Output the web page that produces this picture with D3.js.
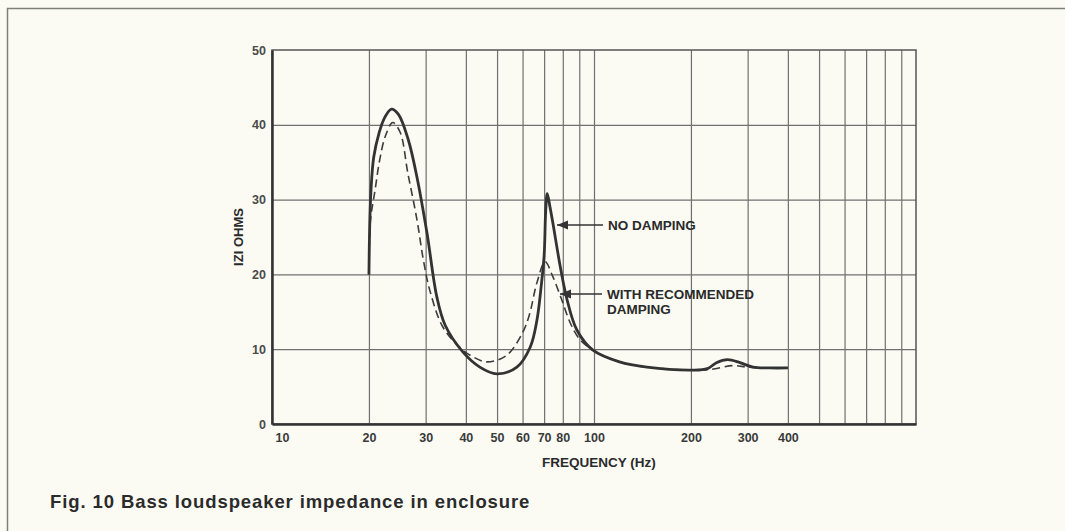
<!DOCTYPE html>
<html>
<head>
<meta charset="utf-8">
<script src="https://cdn.jsdelivr.net/npm/d3@7"></script>
<style>
  body { margin: 0; background: #fbfbf4; }
  svg { display: block; }
</style>
</head>
<body>
<div id="chart"></div>
<script>
// Bass loudspeaker impedance in enclosure - |Z| vs frequency

// Tick values
const freqLabels = [10, 20, 30, 40, 50, 60, 70, 80, 100, 200, 300, 400];
const freqGrid = [20, 30, 40, 50, 60, 70, 80, 90, 100, 200, 300, 400, 500, 600, 700, 800, 900];
const ohmTicks = [0, 10, 20, 30, 40, 50];

// No damping (solid): [Hz, ohms]
const noDamping = [
  [20, 20], [20.1, 26], [20.3, 31.3], [20.7, 35.7], [21.5, 38.9], [22.4, 41.0],
  [23.5, 42.1], [24.7, 41.4], [26.5, 38.0], [28.2, 33.0], [30.3, 25.5], [32.5, 17.0],
  [34.5, 13.2], [39.2, 9.6], [44.2, 7.6], [49.9, 6.7], [57.6, 7.6],
  [63.4, 10.3], [66.5, 13.9], [68.5, 18.3], [70.0, 22.5], [70.8, 28.5], [71.6, 30.8],
  [73.0, 29.0], [74.5, 26.9], [78.6, 21.0], [82.5, 16.6], [88.4, 12.6], [99, 9.9],
  [120, 8.3], [146, 7.6], [202, 7.2], [225, 7.4], [240, 8.2], [260, 8.6], [284, 8.2],
  [312, 7.6], [350, 7.5], [400, 7.5]
];

// With recommended damping (dashed): [Hz, ohms]
const withDamping = [
  [20, 20], [20.2, 27], [20.9, 31.3], [21.6, 35.3], [22.5, 38.5], [23.7, 40.3],
  [25.0, 39.0], [26.4, 33.6], [28.2, 27.3], [29.5, 22], [30.9, 17.9], [33.9, 13.0],
  [38.4, 10.2], [42, 9.0], [46.6, 8.3], [53.6, 9.2], [60.0, 12.2], [63, 14.6],
  [66.5, 18.9], [70.5, 21.7], [74.5, 19.7], [79.4, 16.6], [84.4, 13.5], [90, 11.4],
  [99, 9.9], [120, 8.3], [146, 7.6], [202, 7.2], [230, 7.3], [270, 7.8], [300, 7.6],
  [350, 7.5], [400, 7.5]
];

const width = 1065, height = 531;
const margin = { top: 50, right: 149, bottom: 107, left: 272 };
const ink = '#333';

const svg = d3.select('#chart').append('svg')
  .attr('width', width)
  .attr('height', height)
  .style('font-family', '"Liberation Sans", Arial, Helvetica, sans-serif');

// page frame
svg.append('path')
  .attr('d', `M7.5,${height} V8.5 H${width}`)
  .attr('fill', 'none')
  .attr('stroke', '#7d8076')
  .attr('stroke-width', 1.5);

const x = d3.scaleLog()
  .domain([10, 1000])
  .range([margin.left, width - margin.right]);

const y = d3.scaleLinear()
  .domain([0, 50])
  .range([height - margin.bottom, margin.top]);

// vertical grid
svg.append('g')
  .attr('transform', `translate(0,${y(0)})`)
  .call(d3.axisBottom(x).tickValues(freqGrid).tickSize(-(y(0) - y(50))).tickFormat(''))
  .call(g => g.select('.domain').remove())
  .call(g => g.selectAll('.tick line').attr('stroke', '#707070').attr('stroke-width', 1.2));

// horizontal grid
svg.append('g')
  .attr('transform', `translate(${x(10)},0)`)
  .call(d3.axisLeft(y).tickValues([10, 20, 30, 40]).tickSize(-(x(1000) - x(10))).tickFormat(''))
  .call(g => g.select('.domain').remove())
  .call(g => g.selectAll('.tick line').attr('stroke', '#707070').attr('stroke-width', 1.2));

// border: thin top/right, heavier left/bottom
svg.append('rect')
  .attr('x', x(10)).attr('y', y(50))
  .attr('width', x(1000) - x(10)).attr('height', y(0) - y(50))
  .attr('fill', 'none').attr('stroke', '#555').attr('stroke-width', 1.5);

// x axis labels
svg.append('g')
  .attr('transform', `translate(0,${y(0)})`)
  .call(d3.axisBottom(x).tickValues(freqLabels).tickSize(0).tickPadding(9).tickFormat(d3.format('d')))
  .call(g => g.select('.domain').attr('stroke', ink).attr('stroke-width', 2.5))
  .call(g => g.selectAll('.tick text')
    .attr('font-size', 12.5).attr('font-weight', 'bold').attr('fill', '#3a3a3a').attr('font-family', null))
  .call(g => g.selectAll('.tick text').filter(d => d === 10)
    .attr('text-anchor', 'start').attr('x', 3));

// y axis labels
svg.append('g')
  .attr('transform', `translate(${x(10)},0)`)
  .call(d3.axisLeft(y).tickValues(ohmTicks).tickSize(0).tickPadding(6))
  .call(g => g.select('.domain').attr('stroke', ink).attr('stroke-width', 2.5))
  .call(g => g.selectAll('.tick text')
    .attr('font-size', 12.5).attr('font-weight', 'bold').attr('fill', '#4a4a4a').attr('font-family', null));

// axis titles
svg.append('text')
  .attr('x', (x(10) + x(1000)) / 2 + 5)
  .attr('y', 467)
  .attr('text-anchor', 'middle')
  .attr('font-size', 13.5)
  .attr('font-weight', 'bold')
  .attr('fill', '#2a2a2a')
  .text('FREQUENCY (Hz)');

svg.append('text')
  .attr('transform', `translate(243,${(y(0) + y(50)) / 2}) rotate(-90)`)
  .attr('text-anchor', 'middle')
  .attr('font-size', 13)
  .attr('font-weight', 'bold')
  .attr('fill', '#2a2a2a')
  .text('IZI OHMS');

// curves
const line = d3.line()
  .x(d => x(d[0]))
  .y(d => y(d[1]))
  .curve(d3.curveCatmullRom.alpha(0.5));

svg.append('path')
  .datum(withDamping)
  .attr('d', line)
  .attr('fill', 'none')
  .attr('stroke', '#3c3c3c')
  .attr('stroke-width', 1.6)
  .attr('stroke-dasharray', '8,4.5');

svg.append('path')
  .datum(noDamping)
  .attr('d', line)
  .attr('fill', 'none')
  .attr('stroke', '#333')
  .attr('stroke-width', 2.8)
  .attr('stroke-linejoin', 'round');

// annotations
const notes = [
  { lines: ['NO DAMPING'], tipX: 557, y: 225, textX: 608 },
  { lines: ['WITH RECOMMENDED', 'DAMPING'], tipX: 560, y: 294, textX: 607 }
];

const note = svg.selectAll('.note')
  .data(notes)
  .enter()
  .append('g')
  .attr('class', 'note');

note.append('line')
  .attr('x1', d => d.tipX).attr('x2', d => d.textX - 5)
  .attr('y1', d => d.y).attr('y2', d => d.y)
  .attr('stroke', ink).attr('stroke-width', 1.3);

note.append('path')
  .attr('d', d => `M${d.tipX},${d.y} l11,-4.5 v9 z`)
  .attr('fill', ink);

note.append('text')
  .attr('x', d => d.textX)
  .attr('y', d => d.y + 5)
  .attr('font-size', 13.5)
  .attr('font-weight', 'bold')
  .attr('fill', '#2a2a2a')
  .selectAll('tspan')
  .data(d => d.lines.map((t, i) => ({ t, i, x: d.textX })))
  .enter()
  .append('tspan')
  .attr('x', d => d.x)
  .attr('dy', d => d.i === 0 ? 0 : 15)
  .text(d => d.t);

// caption
svg.append('text')
  .attr('x', 50)
  .attr('y', 508)
  .attr('font-size', 18.5)
  .attr('font-weight', 'bold')
  .attr('letter-spacing', 0.9)
  .attr('fill', '#2b2b2b')
  .text('Fig. 10 Bass loudspeaker impedance in enclosure');
</script>
</body>
</html>
